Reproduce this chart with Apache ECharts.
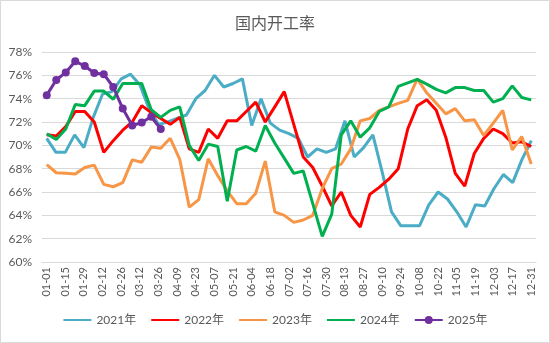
<!DOCTYPE html>
<html>
<head>
<meta charset="utf-8">
<script src="https://cdn.jsdelivr.net/npm/echarts@6/dist/echarts.min.js"></script>
<style>
html,body{margin:0;padding:0;background:#fff;}
#chart{width:550px;height:343px;}
</style>
</head>
<body>
<div id="chart"></div>
<script>
// x-axis date labels (weekly, 53 slots)
const dateCategories = ['01-01','01-08','01-15','01-22','01-29','02-05','02-12','02-19','02-26','03-05','03-12','03-19','03-26','04-02','04-09','04-16','04-23','04-30','05-07','05-14','05-21','05-28','06-04','06-11','06-18','06-25','07-02','07-09','07-16','07-23','07-30','08-06','08-13','08-20','08-27','09-03','09-10','09-17','09-24','10-01','10-08','10-15','10-22','10-29','11-05','11-12','11-19','11-26','12-03','12-10','12-17','12-24','12-31'];
// week slots used by 2022-2025 series (52 weeks)
const weekCategories = Array.from({length: 52}, (_, i) => '第' + (i + 1) + '周');

const yTicks = {min: 60, max: 78, step: 2};

const s2021 = [70.6,69.4,69.4,70.9,69.8,72.4,74.4,74.6,75.7,76.1,75.2,73.1,71.8,72.0,72.3,72.6,74.0,74.7,76.0,75.0,75.3,75.7,71.7,74.0,71.9,71.3,71.0,70.6,69.0,69.7,69.4,69.7,72.1,69.0,69.8,70.9,67.7,64.3,63.1,63.1,63.1,64.9,66.0,65.4,64.3,63.0,64.9,64.8,66.3,67.5,66.8,68.8,70.4];
const s2022 = [70.9,70.8,71.6,72.9,72.9,72.0,69.4,70.4,71.3,72.0,73.4,72.8,72.3,71.8,72.4,69.7,69.4,71.4,70.6,72.1,72.1,72.9,73.7,72.0,73.3,74.6,71.8,69.0,68.1,66.5,64.8,66.0,64.0,63.0,65.8,66.4,67.1,68.0,71.4,73.4,73.9,73.0,70.7,67.6,66.5,69.3,70.6,71.4,71.0,70.2,70.3,69.9];
const s2023 = [68.35,67.65,67.6,67.55,68.1,68.3,66.65,66.45,66.8,68.75,68.55,69.85,69.75,70.6,68.8,64.7,65.35,68.85,67.4,66.1,65.0,65.0,65.9,68.65,64.3,64.0,63.4,63.6,64.0,66.3,68.0,68.4,69.7,72.1,72.3,73.0,73.3,73.6,73.85,75.7,74.5,73.6,72.7,73.15,72.1,72.2,70.85,71.9,73.0,69.6,70.75,68.4];
const s2024 = [71.0,70.5,71.4,73.5,73.4,74.65,74.65,73.95,75.3,75.3,75.3,73.05,72.4,73.0,73.3,70.0,68.7,70.1,69.9,65.2,69.6,69.9,69.5,71.7,70.2,68.9,67.6,67.8,65.0,62.2,64.1,70.9,72.1,70.7,71.5,72.9,73.3,75.05,75.35,75.65,75.25,74.8,74.5,74.95,74.95,74.7,74.7,73.7,74.0,75.1,74.1,73.9];
const s2025 = [74.3,75.6,76.25,77.2,76.8,76.2,76.1,75.0,73.15,71.7,71.95,72.45,71.4];

const seriesNames = ['2021年','2022年','2023年','2024年','2025年'];
const seriesColors = ['#4BACC6','#FF0000','#F79646','#00B050','#7030A0'];

const FONT = "Lato, 'Noto Sans CJK SC', sans-serif";
const chart = echarts.init(document.getElementById('chart'), null, {renderer: 'canvas'});

function lineSeries(idx, data, axisIdx, withSymbol) {
  return {
    name: seriesNames[idx],
    type: 'line',
    xAxisIndex: axisIdx,
    data: data,
    symbol: withSymbol ? 'circle' : 'none',
    symbolSize: 8,
    showSymbol: withSymbol,
    showAllSymbol: true,
    lineStyle: {width: 3, color: seriesColors[idx]},
    itemStyle: {color: seriesColors[idx]},
    emphasis: {disabled: true},
    animation: false
  };
}

const legendData = seriesNames.map((n, i) => i < 4
  ? {name: n, itemStyle: {opacity: 0, color: 'rgba(0,0,0,0)', borderWidth: 0}}
  : {name: n});

chart.setOption({
  animation: false,
  backgroundColor: '#fff',
  title: {
    text: '国内开工率',
    left: 'center',
    top: 11,
    textStyle: {fontFamily: FONT, fontSize: 16, fontWeight: 'normal', color: '#595959'}
  },
  graphic: [{
    type: 'rect',
    shape: {x: 0.5, y: 0.5, width: 549, height: 342},
    style: {fill: 'none', stroke: '#d9d9d9', lineWidth: 1},
    silent: true
  }],
  legend: {
    data: legendData,
    bottom: 12,
    left: 'center',
    itemWidth: 28,
    itemHeight: 10,
    itemGap: 14,
    textStyle: {fontFamily: FONT, fontSize: 12, color: '#595959'}
  },
  grid: {left: 42, right: 14, top: 52, bottom: 81, containLabel: false},
  xAxis: [{
    type: 'category',
    data: dateCategories,
    boundaryGap: true,
    axisLine: {show: true, lineStyle: {color: '#d9d9d9', width: 1}},
    axisTick: {show: false},
    axisLabel: {interval: 1, rotate: 90, fontSize: 11, color: '#595959', fontFamily: FONT, margin: 5},
    splitLine: {show: false}
  }, {
    type: 'category',
    data: weekCategories,
    boundaryGap: true,
    show: false,
    position: 'bottom'
  }],
  yAxis: {
    type: 'value',
    min: yTicks.min,
    max: yTicks.max,
    interval: yTicks.step,
    axisLine: {show: false},
    axisTick: {show: false},
    axisLabel: {formatter: '{value}%', fontSize: 12, color: '#595959', fontFamily: FONT, margin: 10},
    splitLine: {lineStyle: {color: '#d9d9d9', width: 1}}
  },
  series: [
    lineSeries(0, s2021, 0, false),
    lineSeries(1, s2022, 1, false),
    lineSeries(2, s2023, 1, false),
    lineSeries(3, s2024, 1, false),
    lineSeries(4, s2025, 1, true)
  ]
});
</script>
</body>
</html>
